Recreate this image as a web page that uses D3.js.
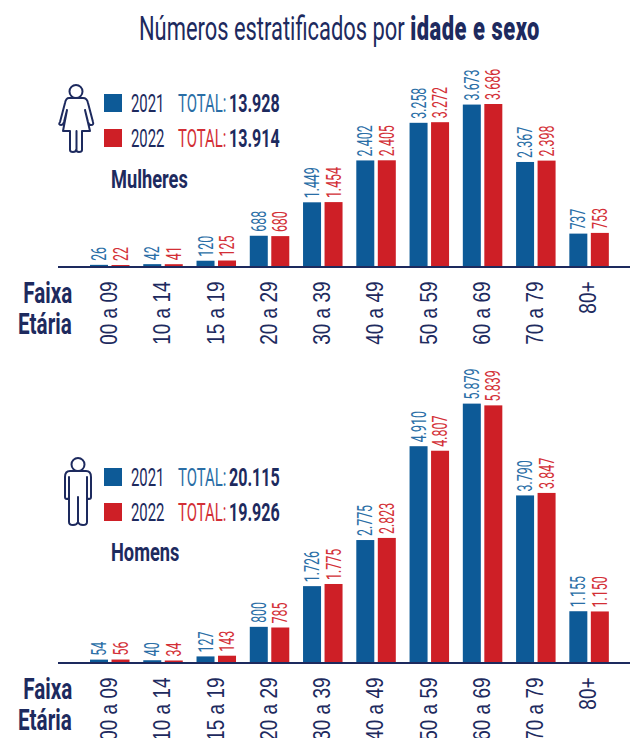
<!DOCTYPE html>
<html><head><meta charset="utf-8">
<script src="https://cdn.jsdelivr.net/npm/d3@7"></script>
<style>html,body{margin:0;padding:0;background:#fff}svg{display:block}text{font-family:"Roboto",sans-serif}</style>
</head><body><div id="chart"></div>
<script>
const ageGroups=["00 a 09","10 a 14","15 a 19","20 a 29","30 a 39","40 a 49","50 a 59","60 a 69","70 a 79","80+"];
const women2021=[26,42,120,688,1449,2402,3258,3673,2367,737];
const women2022=[22,41,125,680,1454,2405,3272,3686,2398,753];
const men2021=[54,40,127,800,1726,2775,4910,5879,3790,1155];
const men2022=[56,34,143,785,1775,2823,4807,5839,3847,1150];
const legendYears=["2021","2022"];
const womenTotals=["13.928","13.914"];
const menTotals=["20.115","19.926"];
const NAVY="#1d2a5e",BLUE="#0d5a97",RED="#ce1f26";
const colors=[BLUE,RED],labelColors=["#2a6ea6","#d32f36"];
const W=630,H=738;
const svg=d3.select("#chart").append("svg").attr("width",W).attr("height",H).attr("viewBox",`0 0 ${W} ${H}`);
const x0=d3.scaleBand().domain(ageGroups).range([80.5,613.1]);
const x1=d3.scaleBand().domain([0,1]).range([9.5,49]).paddingInner(0.163);
const PX=0.04395;
function label(txt,x,y,size,fill,sx,weight){
  return svg.append("text").attr("transform",`translate(${x},${y}) scale(${sx},1)`)
    .attr("font-size",size).attr("fill",fill).attr("font-weight",weight||400).text(txt);
}
const title=svg.append("text").attr("font-size",33).attr("fill",NAVY);
title.append("tspan").text("Números estratificados por ");
title.append("tspan").attr("font-weight",900).attr("letter-spacing",0.8).text("idade e sexo");
title.attr("transform",`translate(139,40) scale(${401/title.node().getComputedTextLength()},1)`);
function panel(base,v21,v22,totals,name,legendTop,nameY,icon){
  const y=d3.scaleLinear().domain([0,1]).range([base,base-PX]);
  [v21,v22].forEach((vals,s)=>{
    const gs=svg.append("g");
    gs.selectAll("rect").data(vals).join("rect")
      .attr("x",(d,i)=>x0(ageGroups[i])+x1(s)).attr("width",x1.bandwidth())
      .attr("y",d=>y(d)).attr("height",d=>base-y(d)).attr("fill",colors[s]);
    gs.selectAll("text").data(vals).join("text")
      .attr("transform",(d,i)=>`translate(${x0(ageGroups[i])+x1(s)+x1.bandwidth()/2+7},${y(d)-4}) rotate(-90) scale(0.59,1)`)
      .attr("font-size",21).attr("fill",labelColors[s])
      .text(d=>d3.format(",")(d).replace(/,/g,"."));
  });
  const ax=svg.append("g").attr("transform",`translate(0,${base})`).call(d3.axisBottom(x0).tickSize(0));
  ax.select(".domain").remove();
  ax.selectAll("text").attr("transform","translate(10,15.5) rotate(-90) scale(0.79,1)")
    .attr("text-anchor","end").attr("dy",0).attr("y",0).attr("x",0).attr("font-size",24).attr("fill",NAVY)
    .style("font-family",'"Liberation Sans"');
  svg.append("line").attr("x1",58).attr("x2",630).attr("y1",base+1).attr("y2",base+1).attr("stroke",NAVY).attr("stroke-width",2);
  label("Faixa",23.3,base+37,29.5,NAVY,0.70,700);
  label("Etária",18,base+68,29.5,NAVY,0.70,700);
  legendYears.forEach((yr,s)=>{
    const ly=legendTop+s*35;
    svg.append("rect").attr("x",104).attr("y",ly).attr("width",18).attr("height",18).attr("fill",colors[s]);
    label(yr,131,ly+17.7,25.7,NAVY,0.58);
    label("TOTAL:",178,ly+17.7,25.7,labelColors[s],0.58);
    label(totals[s],229,ly+17.7,25.7,NAVY,0.625,700);
  });
  label(name,111,nameY,25.7,NAVY,0.71,700);
  svg.append("path").attr("d",icon).attr("fill","none").attr("stroke",NAVY).attr("stroke-width",2).attr("stroke-linejoin","round").attr("stroke-linecap","round");
}
const womanIcon="M76 85a6.5 6.5 0 1 1 0 13a6.5 6.5 0 1 1 0-13M69 98H83Q87 98 88 103L93 122Q94 125 91 125Q89 125 88 122L85 110L90 131H82V150Q82 152 79 152Q76 152 76.5 149Q76 152 73 152Q70 152 70 150V131H63L67 110L64 122Q63 125 61 125Q58 125 60 122L65 103Q66 98 69 98M76.5 131V149";
const manIcon="M78 458a6.5 6.5 0 1 1 0 13a6.5 6.5 0 1 1 0-13M70 471H86Q91 471 91 477V497Q91 499 89 499Q87 499 87 497V477M87 497V522Q87 525 83 525Q79 525 78 522Q77 525 73 525Q69 525 69 522V477M69 497Q69 499 67 499Q65 499 65 497V477Q65 471 70 471M78 497V522";
panel(266,women2021,women2022,womenTotals,"Mulheres",94,188,womanIcon);
panel(662,men2021,men2022,menTotals,"Homens",468,560.7,manIcon);
</script></body></html>
